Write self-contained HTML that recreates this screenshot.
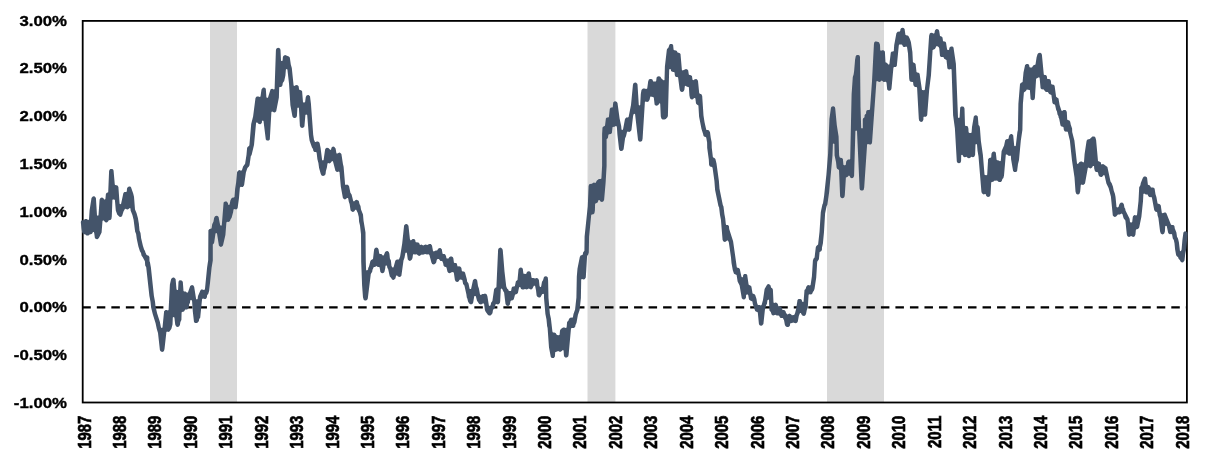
<!DOCTYPE html>
<html><head><meta charset="utf-8"><title>Chart</title>
<style>
html,body{margin:0;padding:0;background:#fff;}
body{width:1210px;height:462px;overflow:hidden;position:relative;font-family:"Liberation Sans",sans-serif;}
svg{position:absolute;left:0;top:0;display:block}
text{font-family:"Liberation Sans",sans-serif;font-weight:bold;fill:#000}
</style></head><body>
<svg width="1210" height="462" viewBox="0 0 1210 462">
<rect x="210" y="20.9" width="27" height="381.6" fill="#d9d9d9"/>
<rect x="587.5" y="20.9" width="27.899999999999977" height="381.6" fill="#d9d9d9"/>
<rect x="827" y="20.9" width="57" height="381.6" fill="#d9d9d9"/>
<line x1="82.3" y1="307.35" x2="1186.9" y2="307.35" stroke="#000" stroke-width="2.1" stroke-dasharray="8.5 6.02"/>
<rect x="82.7" y="20.9" width="1104.2" height="381.6" fill="none" stroke="#000" stroke-width="1.8"/>
<path d="M1187.6,234.1 1187.4,232.4 1186.4,231.4 1184.8,231.2 1183.4,232.4 1182.4,240.0 1181.6,249.6 1181.0,251.1 1180.6,251.2 1179.9,250.8 1178.9,242.2 1178.0,238.4 1177.0,236.8 1176.4,232.5 1174.8,228.4 1174.4,226.1 1173.4,225.1 1171.6,225.0 1170.9,224.5 1166.4,213.2 1165.6,212.6 1164.6,212.4 1162.5,213.2 1161.8,212.8 1160.8,205.5 1159.9,204.2 1157.6,203.4 1156.4,197.0 1155.5,194.2 1154.6,188.5 1153.2,187.4 1151.0,187.5 1149.9,185.6 1147.9,184.8 1147.1,178.0 1146.8,177.2 1145.6,176.5 1144.0,176.6 1142.9,177.8 1140.8,183.0 1140.4,185.2 1139.2,187.2 1138.5,201.1 1137.0,214.9 1136.2,215.4 1134.4,215.1 1133.2,215.9 1132.8,217.0 1132.2,222.1 1131.5,222.6 1130.8,222.6 1130.0,222.1 1129.6,218.8 1125.5,210.4 1125.2,208.8 1124.4,207.4 1123.9,204.4 1123.4,203.4 1122.2,202.6 1120.6,202.8 1119.5,203.9 1118.5,207.0 1117.5,207.6 1116.5,207.1 1115.5,196.8 1114.9,193.8 1113.8,190.8 1112.9,186.5 1111.6,183.1 1110.5,181.4 1107.4,167.1 1104.0,164.4 1103.0,164.1 1101.5,164.4 1101.1,164.0 1100.9,162.6 1100.2,161.9 1098.0,161.0 1096.1,139.9 1095.4,137.6 1094.4,136.6 1093.4,136.4 1092.4,136.6 1089.8,139.0 1087.5,139.5 1086.6,140.8 1084.6,154.1 1084.0,162.1 1083.2,162.6 1081.9,161.6 1080.9,161.4 1079.5,161.9 1078.1,163.8 1077.8,163.9 1077.0,163.4 1074.4,140.5 1072.2,132.1 1072.1,128.6 1070.8,124.8 1070.2,121.8 1069.4,120.4 1067.8,119.9 1067.2,119.4 1066.8,112.0 1066.2,110.8 1065.5,110.1 1064.5,109.9 1063.5,110.1 1062.1,111.1 1061.4,110.6 1059.6,105.0 1058.5,98.6 1056.1,96.8 1054.6,85.8 1053.6,84.8 1052.0,84.6 1051.2,84.1 1050.9,80.9 1050.4,79.8 1049.2,79.0 1047.5,78.9 1047.1,78.5 1046.9,76.6 1046.4,75.6 1045.6,75.0 1044.5,74.9 1043.8,74.4 1041.9,54.8 1041.4,53.5 1040.2,52.8 1038.6,52.9 1037.6,53.9 1036.6,57.2 1035.5,64.6 1033.2,65.5 1032.0,67.6 1029.9,67.5 1029.4,66.8 1029.1,65.0 1028.1,64.0 1026.5,63.9 1025.1,65.0 1023.5,72.5 1022.6,82.1 1020.8,83.0 1020.0,84.1 1018.4,103.8 1017.9,129.9 1017.4,131.9 1015.8,145.8 1015.0,146.2 1014.2,145.8 1013.2,135.2 1011.9,134.1 1011.2,134.0 1009.9,134.5 1009.0,135.9 1008.6,138.6 1007.9,139.1 1006.2,139.2 1005.2,140.2 1004.1,145.4 1001.6,151.1 1000.8,160.8 1000.0,161.2 998.8,160.4 997.4,160.2 996.6,159.8 995.8,152.6 994.4,151.5 993.8,151.4 992.4,151.9 991.5,153.5 991.2,157.2 990.5,157.8 989.2,157.9 988.1,159.2 987.2,174.8 986.5,175.2 984.9,175.0 984.5,174.6 982.9,155.0 980.9,141.0 979.9,127.8 979.5,126.0 978.5,124.9 977.8,116.5 976.8,115.5 975.8,115.2 974.8,115.5 973.8,116.5 972.0,127.0 971.6,132.5 970.9,133.0 969.5,132.9 968.6,132.2 968.4,128.5 967.8,126.6 967.0,126.0 965.8,125.9 965.0,125.4 964.5,108.6 964.0,107.2 963.2,106.6 962.2,106.4 961.2,106.6 960.2,107.6 959.6,117.4 958.8,118.0 958.0,117.5 955.9,63.8 953.5,47.6 952.5,46.6 950.9,46.5 949.5,47.6 949.1,49.5 948.8,49.9 947.9,50.0 947.1,49.5 946.0,42.6 945.0,41.6 943.8,41.5 943.0,41.0 942.5,37.6 941.5,36.6 940.0,36.0 939.2,31.0 938.8,29.9 938.0,29.2 936.4,29.1 935.2,29.9 934.8,30.9 934.5,32.9 934.0,33.6 933.2,33.6 932.5,33.0 931.5,32.8 930.5,33.0 929.8,33.6 929.1,35.8 926.5,75.1 924.8,89.8 924.0,90.2 922.2,90.0 921.9,89.6 919.6,73.8 918.6,72.8 917.2,72.6 916.5,72.1 915.6,63.9 914.6,62.9 913.4,62.6 912.9,62.1 912.4,51.9 910.9,42.1 909.8,38.8 908.4,36.0 907.6,35.4 906.1,35.2 905.4,34.8 904.6,29.0 903.6,28.0 902.6,27.8 901.6,28.0 900.9,28.6 900.4,29.6 900.2,31.0 899.8,31.6 897.6,31.8 896.4,33.2 894.2,45.1 893.8,51.0 893.0,51.5 891.8,51.6 890.8,52.6 889.4,64.2 889.0,64.6 888.2,64.6 887.1,63.1 885.5,62.2 884.9,51.8 884.5,51.0 883.4,50.2 882.1,50.2 881.1,50.8 880.2,50.2 880.0,44.8 879.1,42.5 878.4,41.9 876.2,41.4 875.2,41.6 874.2,42.6 873.9,44.8 872.0,81.2 870.0,108.9 869.5,109.9 867.8,109.9 866.6,110.6 866.1,111.9 866.1,113.4 864.6,115.1 864.5,117.2 863.0,118.6 862.8,119.6 862.8,128.1 862.0,128.6 861.2,128.1 860.5,106.6 860.0,57.0 859.5,55.6 858.4,54.9 856.8,55.0 855.8,56.0 855.1,59.6 854.1,71.2 853.6,74.6 852.8,77.0 851.6,94.2 850.2,159.0 849.8,159.6 848.0,159.6 846.9,160.4 846.2,161.5 845.8,164.8 845.0,165.2 844.1,165.2 843.4,164.8 842.9,158.9 841.9,157.9 840.4,157.8 839.6,157.2 839.1,154.9 838.6,136.5 836.8,124.9 835.2,108.2 834.8,107.0 833.6,106.2 832.0,106.4 831.0,107.4 829.4,119.1 828.1,153.5 826.4,174.5 824.1,196.1 823.0,203.2 822.4,204.4 820.8,212.1 819.5,232.0 818.1,244.6 816.4,245.9 815.8,247.2 814.6,257.4 813.6,258.6 812.9,260.5 811.9,276.2 810.6,285.0 809.9,285.5 808.5,285.1 807.1,285.6 806.2,286.9 805.6,288.9 804.5,290.1 803.6,301.5 803.2,301.9 802.5,301.9 801.5,299.6 800.4,298.9 798.5,299.0 797.5,300.0 796.1,309.1 795.1,313.1 794.5,314.6 793.8,315.1 791.9,315.2 791.0,314.2 789.4,313.6 787.5,314.4 787.0,314.2 785.9,312.6 785.4,310.9 784.2,310.1 782.5,310.0 781.4,307.1 780.2,306.4 778.6,306.2 778.1,305.6 777.9,304.2 777.0,303.0 775.6,302.5 774.2,302.9 773.5,302.4 772.9,289.8 772.4,288.5 771.0,287.5 770.6,285.4 769.2,284.2 768.6,284.1 767.2,284.6 764.6,288.9 763.0,300.1 761.6,305.1 760.8,305.6 759.8,305.1 758.1,305.0 757.6,304.5 757.0,302.4 756.5,298.9 755.2,295.0 754.2,294.0 753.0,293.8 752.5,293.2 751.4,286.4 750.4,285.4 749.1,285.1 748.6,284.6 747.2,275.1 746.2,274.1 745.2,273.9 744.2,274.1 743.2,275.1 743.0,276.9 742.6,277.2 741.9,277.2 741.4,276.5 739.8,268.9 738.8,267.9 737.5,267.8 736.8,267.2 733.1,241.2 729.2,228.9 728.9,226.1 727.9,225.1 726.2,224.9 725.8,224.0 725.2,218.2 724.4,214.0 723.5,206.4 722.8,204.9 719.5,188.8 718.9,181.0 716.5,163.4 715.4,158.9 714.4,157.9 712.9,157.2 711.8,147.9 711.6,141.9 710.8,138.1 710.0,132.2 709.0,130.5 708.0,130.0 706.6,129.9 706.2,129.5 704.5,121.9 703.5,115.6 702.2,95.9 701.4,94.2 699.8,93.8 699.2,93.1 698.0,80.9 697.5,79.9 696.4,79.1 694.8,79.2 693.4,80.2 692.5,79.8 692.0,76.2 691.0,75.2 689.5,75.1 688.8,74.6 688.2,70.6 687.4,69.4 686.0,68.9 682.6,70.5 681.9,70.0 680.5,53.9 679.5,52.9 677.6,52.6 676.8,51.0 676.0,50.4 674.4,50.2 673.6,49.8 673.1,45.1 672.1,44.1 671.1,43.9 670.1,44.1 669.4,44.8 668.5,47.4 667.1,48.9 666.8,50.1 664.9,66.6 664.5,79.9 664.1,80.2 663.4,80.2 661.4,78.4 660.4,76.8 659.0,76.2 657.6,76.5 656.6,77.5 656.2,80.8 655.8,81.4 653.2,81.4 652.4,79.6 651.2,78.9 650.0,78.9 648.9,79.6 648.2,81.2 647.2,88.6 646.2,89.1 644.4,88.5 643.1,88.5 642.4,88.9 641.5,90.1 640.8,94.1 640.2,105.1 639.5,105.6 638.8,105.1 637.5,84.6 637.2,83.8 636.2,82.8 635.2,82.5 633.9,83.0 633.2,83.8 632.9,85.2 631.0,104.9 628.6,116.9 627.8,117.5 626.2,117.6 625.0,119.1 623.0,129.6 622.2,130.1 621.5,129.6 621.2,126.0 619.6,118.6 617.5,103.0 616.6,101.8 615.2,101.2 614.2,101.5 613.2,102.5 612.8,107.0 612.4,107.4 610.9,107.6 609.8,108.8 608.9,117.0 608.1,117.5 606.9,117.6 605.9,118.6 605.0,125.8 603.5,126.4 602.5,127.4 602.1,134.0 602.1,165.8 601.4,178.6 600.6,179.1 599.9,178.9 598.9,179.1 596.9,180.4 595.5,182.9 593.9,182.6 592.9,182.9 591.9,183.8 589.9,184.0 589.1,184.6 588.6,185.9 587.8,206.1 584.6,236.6 584.4,250.8 583.1,252.6 582.8,254.6 582.2,255.1 580.6,255.6 579.8,257.0 577.5,268.6 576.8,276.5 576.4,297.6 575.1,309.5 573.5,313.9 572.9,317.2 572.1,317.8 571.1,317.5 569.8,318.0 569.0,318.9 568.5,320.5 567.1,322.1 566.6,327.5 565.8,328.0 564.4,327.4 563.1,327.4 560.9,329.1 560.0,330.6 559.6,334.8 558.9,335.2 556.9,335.1 555.6,332.9 554.2,332.4 552.9,332.5 552.4,331.6 550.9,318.4 549.9,314.0 548.5,297.9 548.1,280.6 547.8,277.5 546.8,276.5 545.8,276.2 544.8,276.5 544.0,277.1 543.0,280.2 542.0,281.8 541.2,286.2 540.8,286.9 540.0,286.9 539.5,285.8 538.9,279.9 538.0,278.6 536.6,278.1 535.1,278.6 533.4,278.0 532.0,278.1 531.5,277.6 530.8,272.5 529.8,271.5 528.8,271.2 527.8,271.5 527.0,272.1 526.1,273.9 523.8,273.8 523.4,273.4 522.8,268.8 521.8,267.8 520.8,267.5 519.8,267.8 519.0,268.4 518.5,269.5 517.5,279.9 515.9,281.2 514.9,285.9 514.1,286.4 512.9,286.5 512.1,287.1 511.6,288.1 511.2,290.6 510.8,291.1 508.9,291.1 508.2,289.5 507.1,288.4 506.2,286.2 504.5,271.4 502.8,250.5 502.4,248.9 501.4,247.9 500.4,247.6 499.4,247.9 498.6,248.5 498.1,249.8 496.4,287.2 495.0,288.0 494.1,289.2 492.4,300.9 491.1,302.8 490.6,305.2 489.6,306.0 488.9,305.5 487.4,296.2 486.8,294.5 486.0,293.9 485.0,293.6 483.9,294.0 482.4,293.9 480.8,294.9 480.0,294.4 478.9,288.5 478.0,285.9 477.2,280.6 476.4,279.2 475.0,278.8 474.4,278.9 473.0,280.0 471.1,288.8 470.8,289.1 470.0,289.1 469.6,288.8 468.5,283.5 467.1,281.5 466.9,279.4 465.0,272.5 464.0,271.5 462.6,271.4 461.8,270.8 461.4,268.1 460.5,266.8 459.1,266.2 457.8,266.4 457.4,266.0 456.8,263.6 456.0,263.0 454.6,262.9 453.9,262.4 453.4,258.4 452.9,257.2 451.8,256.5 450.4,256.5 449.2,257.2 448.5,258.5 446.8,258.5 446.4,258.1 446.0,256.0 445.4,254.8 444.6,254.1 443.0,253.9 442.5,253.4 441.8,249.2 440.4,248.1 439.8,248.0 438.4,248.5 437.1,250.6 435.8,250.5 433.8,251.4 433.0,250.9 432.0,245.6 430.8,244.1 429.1,244.0 427.4,245.1 425.4,244.4 423.2,245.4 421.4,244.6 420.4,244.9 419.6,244.4 419.4,243.4 418.4,242.4 416.0,242.2 415.6,241.9 415.2,240.1 414.2,239.1 412.6,239.0 411.1,240.2 410.4,240.2 409.9,239.0 408.5,226.0 408.0,224.9 406.9,224.1 405.2,224.2 404.1,225.6 402.2,243.5 400.1,256.6 398.9,259.5 396.8,259.4 395.4,260.5 393.6,267.0 393.2,267.4 392.5,267.4 391.5,266.0 390.9,260.6 389.9,258.6 389.4,253.8 388.8,251.9 387.6,251.1 386.0,251.2 385.0,252.2 383.9,255.1 383.5,255.5 382.8,255.5 381.4,254.1 380.0,254.0 379.2,253.5 378.6,249.4 377.8,248.1 376.4,247.6 375.0,248.1 374.1,249.5 373.0,258.9 371.2,259.9 370.4,261.0 369.0,266.6 368.2,267.9 368.1,269.5 366.9,270.6 366.1,270.1 365.8,261.6 365.5,232.4 363.5,220.4 363.0,214.4 361.0,209.4 360.5,205.9 359.5,204.0 358.8,201.1 358.2,200.4 356.6,199.8 355.6,200.0 354.0,201.4 353.2,200.9 351.6,194.5 350.4,192.8 349.0,185.9 348.0,184.9 347.0,184.6 345.9,185.0 345.1,184.5 343.6,166.8 342.9,163.8 341.4,153.9 340.4,152.9 339.4,152.6 338.4,152.9 337.5,153.6 336.8,153.6 336.4,153.2 335.6,148.5 334.4,146.9 333.4,146.6 332.0,147.1 331.4,147.9 331.1,149.5 330.4,150.0 328.4,147.9 326.8,147.8 325.6,148.5 325.1,149.5 323.6,159.9 322.9,160.4 322.1,159.9 320.6,148.1 319.6,143.1 319.1,142.2 318.0,141.5 316.8,141.5 315.8,142.1 315.0,142.1 314.0,139.8 313.2,134.8 310.9,103.2 310.0,96.2 308.6,95.1 308.0,95.0 306.6,95.5 305.8,97.1 305.1,102.1 304.4,102.6 303.4,102.5 303.0,102.1 302.1,91.2 301.1,90.2 299.9,90.1 299.1,89.6 298.6,86.2 297.6,85.2 296.0,85.1 294.4,86.1 293.6,85.6 291.8,67.9 290.8,64.4 289.8,57.6 288.8,56.6 285.1,55.1 284.1,55.4 283.4,56.0 282.9,57.1 282.6,60.4 282.1,60.9 281.4,60.9 281.0,60.5 280.5,49.9 280.0,48.6 278.9,47.9 278.2,47.8 276.9,48.2 276.2,49.0 275.9,50.5 274.6,88.9 273.9,89.4 272.2,88.8 271.2,89.0 270.5,89.6 268.0,97.4 267.2,97.9 266.4,97.2 265.8,88.8 264.8,87.8 263.8,87.5 262.8,87.8 261.5,89.4 260.5,96.6 259.8,97.1 258.4,96.4 257.1,96.4 256.4,96.8 255.5,98.0 253.1,116.4 251.2,124.1 249.4,145.2 248.9,146.1 247.6,146.9 247.1,148.1 246.5,154.8 245.1,163.8 243.1,166.5 242.0,170.1 241.1,170.8 239.4,170.1 238.4,170.4 237.1,171.9 236.1,182.5 235.1,188.9 234.5,197.1 233.8,197.6 232.1,197.8 231.4,198.4 230.4,200.6 229.6,204.5 228.9,205.0 228.1,204.5 227.9,203.0 226.6,201.5 225.0,201.4 223.6,202.5 221.8,225.2 221.0,225.8 220.1,225.0 218.6,217.0 217.6,216.0 216.6,215.8 215.6,216.0 214.9,216.6 214.1,218.0 213.5,221.4 212.2,224.2 211.6,228.2 210.9,228.8 209.5,228.9 208.4,230.2 208.2,260.1 207.1,267.5 205.0,288.8 204.4,289.9 203.9,290.0 202.2,289.4 201.2,289.6 200.5,290.2 198.0,296.0 197.6,299.0 196.9,299.5 196.1,299.0 194.2,287.1 193.4,285.6 192.0,285.1 191.0,285.4 190.2,286.0 188.0,292.2 187.2,292.8 186.8,292.6 185.6,291.5 184.2,291.4 183.5,290.9 182.8,281.8 181.6,280.4 180.0,280.2 179.2,280.6 178.5,281.8 178.1,289.5 177.8,289.9 177.0,289.9 176.5,289.2 175.6,278.9 174.0,277.6 173.4,277.5 172.0,278.0 171.1,279.2 169.9,284.4 168.6,310.1 167.9,310.6 166.8,310.1 165.5,310.1 164.1,311.2 162.5,327.4 161.8,327.9 161.0,327.4 159.9,321.9 157.1,313.2 155.5,306.2 155.0,301.5 153.9,295.8 150.9,267.6 149.9,261.9 149.5,261.2 149.4,256.9 148.6,255.8 146.6,254.9 145.4,252.5 145.0,250.9 144.1,249.6 142.9,245.8 141.2,238.4 140.5,233.0 139.5,230.5 138.9,223.9 137.9,218.1 136.5,213.0 135.0,209.6 134.0,196.8 133.2,193.6 131.0,187.2 130.2,186.6 129.2,186.4 127.9,186.9 127.0,188.4 126.8,191.5 126.0,192.0 124.4,192.1 123.4,193.1 121.1,203.8 120.4,204.2 119.6,203.8 118.4,187.1 117.5,185.6 115.2,185.1 114.8,184.6 113.6,171.0 113.4,170.1 112.4,169.1 111.4,168.9 110.4,169.1 109.6,169.8 109.1,171.0 108.2,192.2 106.5,193.1 105.9,193.9 105.4,199.0 105.0,199.4 104.2,199.4 103.2,198.0 101.9,197.5 100.5,198.0 99.6,199.5 98.5,215.2 97.8,215.8 97.0,215.2 95.9,197.9 94.8,196.5 93.8,196.2 92.8,196.5 91.5,198.0 89.6,210.2 89.0,219.4 88.2,219.9 86.6,218.9 85.0,219.0 83.9,220.0 81.6,220.5 81.0,221.2 80.8,222.2 81.5,228.6 82.2,232.5 82.8,233.5 83.5,234.1 85.4,234.4 86.5,235.4 87.5,235.6 88.5,235.4 89.6,234.4 91.5,234.1 92.2,233.5 93.0,232.0 93.8,232.0 94.2,232.9 94.9,238.1 95.9,239.1 97.5,239.2 98.9,238.1 101.6,232.4 102.5,220.9 103.0,220.4 103.8,220.4 105.2,222.2 106.9,222.4 108.0,221.6 108.8,220.2 110.4,220.0 111.4,219.0 111.8,216.6 112.4,199.9 112.8,199.5 114.1,199.4 114.9,199.9 115.8,210.4 117.2,214.5 119.4,216.8 121.0,216.9 122.1,216.1 123.5,211.6 124.9,208.9 125.4,208.8 127.2,209.5 128.2,209.2 129.8,208.0 130.5,208.5 130.6,210.6 132.4,215.0 133.6,219.8 135.1,231.5 136.1,234.1 136.8,238.9 138.4,246.4 140.0,251.4 141.0,253.1 141.5,255.6 142.6,256.9 144.9,261.2 145.2,265.6 146.2,267.2 149.4,296.1 150.5,301.8 151.1,307.4 152.8,314.2 155.6,323.2 156.8,329.0 158.0,332.9 159.9,349.9 160.4,351.0 161.1,351.6 162.1,351.9 163.5,351.4 164.1,350.6 164.5,349.1 166.4,332.1 167.1,331.6 168.1,331.9 169.5,331.4 171.4,328.8 172.5,324.4 172.8,317.4 173.5,316.9 174.4,317.4 175.2,324.5 175.9,326.1 176.6,326.8 177.6,327.0 179.0,326.5 179.9,325.1 180.4,322.1 181.4,319.9 181.6,312.4 182.0,312.0 184.0,311.5 185.2,309.4 187.1,309.4 188.2,308.6 188.8,307.6 189.1,304.6 190.0,302.8 190.2,300.5 190.8,299.9 191.5,299.9 192.1,301.2 192.8,311.6 194.0,322.0 195.0,323.0 196.6,323.1 197.8,322.5 198.9,321.0 199.2,319.1 200.2,317.8 202.1,299.0 203.0,298.5 204.6,299.1 205.6,298.9 206.4,298.2 206.9,297.2 207.2,295.0 208.2,293.9 209.2,290.8 211.6,267.8 212.8,260.5 212.8,244.4 213.8,243.5 214.2,242.5 215.5,233.4 216.2,232.9 217.0,233.4 218.9,245.6 219.9,246.6 220.9,246.9 221.9,246.6 222.6,246.0 223.1,245.1 225.4,234.9 226.4,222.4 227.2,221.8 228.1,222.0 229.1,221.8 230.1,220.8 230.5,219.5 231.6,217.8 233.1,212.2 233.5,209.6 234.2,209.1 236.2,209.4 237.6,208.2 239.0,198.1 239.9,187.6 240.8,186.8 241.9,187.1 242.9,186.9 244.1,185.2 245.9,172.5 247.4,168.1 248.9,166.6 249.5,165.2 250.8,156.2 251.6,154.9 254.0,145.1 256.1,122.8 256.5,122.4 257.2,122.4 258.8,124.1 260.4,124.2 261.8,123.1 262.0,120.9 262.8,120.4 263.5,120.9 265.8,139.4 266.8,140.4 267.8,140.6 268.8,140.4 269.8,139.4 271.4,112.0 272.1,111.5 274.2,112.5 275.2,112.2 276.2,111.2 278.9,97.4 279.2,87.5 279.6,87.1 281.1,86.9 281.9,86.2 282.4,85.4 282.8,83.0 284.2,81.1 285.4,75.4 285.9,69.4 286.6,68.9 287.4,69.4 289.0,83.5 290.4,105.2 292.4,116.2 292.9,117.2 294.0,118.0 295.2,118.0 296.4,117.2 296.9,116.0 297.4,107.9 298.1,107.4 298.9,107.9 299.9,126.0 300.8,127.6 302.1,128.1 303.5,127.6 304.4,126.4 305.4,114.9 306.1,114.4 307.2,114.9 308.8,135.1 309.6,140.8 312.0,147.5 313.0,149.0 313.4,150.9 314.4,151.9 315.9,152.0 316.6,152.5 317.4,159.2 318.4,163.1 319.1,168.0 320.8,174.1 321.6,175.4 323.0,175.9 323.9,175.8 325.1,174.9 325.6,173.8 325.9,171.0 326.9,167.6 327.5,163.5 328.2,163.0 329.4,163.4 330.4,163.1 331.9,161.2 332.2,161.1 333.0,161.6 335.4,170.8 336.4,171.8 337.4,172.0 338.8,171.6 339.5,172.1 340.8,186.5 342.9,198.1 343.9,199.1 344.9,199.4 345.9,199.1 347.0,198.0 347.8,198.0 348.2,198.6 348.8,201.8 349.6,204.1 350.6,210.5 351.8,211.6 352.8,211.9 354.1,211.4 355.4,209.8 356.2,209.8 357.8,213.0 358.8,216.9 359.1,221.8 360.0,225.6 361.0,234.2 361.2,261.9 362.1,285.6 363.0,297.4 363.8,299.9 364.9,300.5 366.1,300.5 367.2,299.8 367.8,298.6 370.8,273.9 372.2,271.8 372.5,269.8 373.8,267.0 375.0,266.9 376.4,266.1 377.8,266.9 379.2,267.0 379.6,267.4 380.4,272.0 381.4,273.0 382.4,273.2 383.4,273.0 384.4,272.0 385.2,268.6 385.5,266.0 385.9,265.6 386.6,265.6 387.0,266.0 387.4,267.9 388.1,269.0 389.8,276.6 391.2,278.0 392.0,279.4 393.4,279.9 394.0,279.8 395.4,278.6 396.0,275.9 396.4,275.5 397.1,275.5 398.0,276.5 399.4,277.0 400.4,276.8 401.4,275.8 403.5,260.6 404.5,257.8 405.4,253.0 406.1,252.5 406.9,253.0 407.8,259.6 408.8,260.6 409.8,260.9 410.8,260.6 411.9,259.5 412.5,258.0 413.0,254.6 413.4,254.2 415.2,254.6 416.6,254.2 418.2,255.6 419.2,255.9 420.2,255.6 421.8,254.4 423.0,254.8 425.1,253.9 427.0,254.6 428.5,254.2 429.4,254.9 431.4,262.6 432.2,264.0 433.6,264.5 435.0,264.0 436.2,262.4 436.8,259.8 437.6,259.1 438.9,259.1 440.4,260.9 441.8,261.0 442.5,261.5 443.2,263.4 443.6,265.8 444.6,266.8 445.8,266.9 446.5,267.4 447.4,271.4 448.2,272.8 449.6,273.2 450.2,273.1 452.1,271.9 453.8,272.6 454.9,280.1 455.8,281.5 457.1,282.0 458.1,281.8 458.9,281.1 459.4,280.0 460.1,279.5 461.6,279.8 462.4,280.2 463.1,283.9 464.4,285.6 466.4,294.5 466.8,297.5 467.4,298.8 468.0,301.5 469.2,303.5 470.0,304.1 471.0,304.4 472.0,304.1 472.8,303.5 473.2,302.5 474.2,296.4 474.6,296.0 475.4,296.0 475.9,296.5 477.0,300.8 479.2,303.9 481.0,304.4 482.0,304.1 483.2,303.2 484.1,303.9 484.9,309.9 485.5,311.6 487.8,314.8 488.9,315.5 490.5,315.4 492.0,314.0 492.5,312.9 493.0,309.9 494.9,307.4 495.4,304.6 496.4,303.9 497.9,304.4 498.5,304.2 499.9,303.1 500.2,301.0 500.8,289.0 501.5,288.5 502.2,289.0 503.4,291.5 504.1,292.4 505.5,304.0 506.4,305.5 507.8,306.0 508.8,305.8 509.8,304.8 510.6,300.9 511.4,300.4 512.8,300.2 513.8,299.2 515.0,294.8 515.4,294.4 516.9,294.1 517.9,293.1 519.0,287.8 519.5,287.1 520.2,287.1 521.1,288.9 522.4,289.6 523.6,289.6 525.0,288.9 526.8,289.5 528.8,288.6 530.8,289.5 531.8,289.2 532.5,288.6 533.9,285.8 534.8,285.8 535.1,286.1 536.0,290.2 536.6,295.5 537.6,297.1 539.0,297.6 540.0,297.4 540.8,296.8 542.1,294.2 543.2,293.8 544.0,294.2 544.0,298.1 545.4,314.0 546.5,319.6 547.1,326.1 547.6,328.1 549.0,347.6 550.8,356.9 551.8,357.9 552.8,358.1 553.8,357.9 554.9,356.5 555.2,352.2 555.6,351.9 557.1,351.6 558.1,351.0 559.5,351.8 560.8,351.8 562.9,350.0 563.6,350.5 563.9,355.2 564.2,356.5 565.2,357.5 566.9,357.6 568.2,356.5 568.6,354.9 571.0,328.4 571.8,327.9 573.8,328.1 575.1,327.0 575.5,324.9 576.5,322.8 577.9,315.0 579.6,309.9 580.9,297.9 581.2,279.5 582.0,279.0 583.5,279.5 584.5,279.2 585.2,278.6 585.8,277.4 587.1,256.0 588.2,254.4 588.8,252.5 589.1,236.8 591.2,215.0 591.8,214.5 593.4,214.2 594.4,213.2 594.9,210.4 595.1,203.8 597.6,202.4 598.6,199.9 599.4,199.9 600.5,201.5 601.9,202.0 603.2,201.5 604.1,200.0 605.6,183.0 606.6,165.9 606.6,139.2 607.9,138.0 608.4,134.8 609.1,134.2 610.9,134.1 611.9,133.1 612.5,127.2 613.2,126.8 613.9,126.9 615.9,126.0 616.4,126.1 616.9,127.4 617.4,134.5 619.1,149.4 620.4,150.9 621.4,151.1 622.8,150.6 623.6,149.2 625.1,138.2 626.0,136.2 627.0,131.9 627.8,131.4 629.2,131.9 630.2,131.6 631.4,130.2 633.1,116.1 633.6,114.2 634.4,113.8 635.1,114.2 638.0,139.8 638.5,140.9 639.2,141.5 640.2,141.8 641.6,141.2 642.2,140.5 642.6,138.6 644.9,102.0 645.6,101.5 647.1,102.0 648.5,101.5 649.6,99.8 650.2,96.9 650.6,96.5 652.9,96.9 653.8,97.5 654.6,104.5 655.2,105.2 656.6,105.8 657.2,105.6 658.4,104.9 659.1,103.4 659.5,103.2 660.2,103.8 660.8,116.4 661.4,118.5 662.5,119.4 664.4,119.5 665.8,118.9 667.4,117.2 667.9,116.0 669.2,69.4 670.0,68.9 670.9,69.5 671.1,70.9 671.8,71.6 673.1,72.1 673.9,71.9 674.6,72.4 674.8,75.0 675.2,76.2 676.0,76.9 677.4,77.0 678.1,77.5 679.6,89.2 680.2,91.1 681.0,91.8 682.0,92.0 683.0,91.8 683.8,91.1 684.4,89.8 684.8,86.2 685.6,85.8 687.0,86.8 688.5,87.0 688.9,87.4 689.4,95.5 690.0,98.2 691.0,99.2 692.0,99.5 693.0,99.2 694.1,98.1 694.9,98.1 695.4,98.6 696.0,103.4 696.9,104.5 698.4,105.4 699.1,116.8 701.5,129.1 703.1,133.9 703.4,135.6 704.0,136.4 705.6,136.9 706.2,137.6 707.1,142.4 707.2,148.1 708.8,159.6 709.1,165.0 710.0,166.6 712.1,167.1 712.6,168.1 714.4,181.1 715.1,190.0 718.4,205.9 719.1,207.6 720.0,215.1 720.9,219.5 722.6,239.9 723.5,241.4 724.9,241.9 725.9,241.6 727.1,240.4 727.9,240.4 728.8,242.2 731.0,257.5 731.5,263.1 732.8,270.2 734.0,273.8 736.6,275.1 737.6,281.5 739.6,285.6 741.8,298.2 742.8,299.2 743.8,299.5 744.8,299.2 745.9,297.9 746.1,295.0 746.9,294.5 747.9,294.6 748.2,295.0 749.0,299.4 750.2,300.6 752.4,301.5 752.8,304.1 755.1,310.8 755.8,311.5 757.2,312.0 757.8,312.6 758.9,323.8 759.4,324.9 760.1,325.5 761.1,325.8 762.1,325.5 763.4,323.9 764.9,310.1 766.2,305.0 766.9,303.9 767.4,300.5 768.2,299.6 769.0,300.1 769.4,309.9 769.6,310.8 770.8,312.1 771.6,314.6 772.4,315.2 773.4,315.5 775.2,314.8 776.8,315.6 778.6,315.5 779.4,316.0 779.6,317.0 780.6,318.0 782.9,318.1 784.1,320.6 784.8,324.6 785.4,325.9 786.8,327.0 788.4,327.1 789.8,326.0 790.2,323.6 790.6,323.2 792.1,323.1 793.1,322.6 795.5,323.2 796.5,323.0 797.2,322.4 797.8,321.5 798.8,316.1 800.0,313.0 800.8,313.0 801.9,315.1 802.8,315.8 804.4,315.9 805.5,315.1 806.0,314.1 806.8,310.0 807.8,307.4 808.6,294.8 809.4,294.2 811.1,294.5 812.2,293.8 812.9,292.1 814.0,290.6 814.6,288.4 816.2,277.8 817.2,261.8 818.9,259.2 819.6,252.1 821.1,251.2 821.9,250.1 822.0,247.6 822.9,243.6 824.0,232.1 825.1,213.6 826.5,206.6 827.4,204.5 829.2,191.8 832.5,155.6 832.9,143.9 833.6,143.4 834.4,143.9 834.6,155.4 836.0,162.0 836.6,167.6 837.1,168.8 839.0,170.0 840.1,196.0 840.4,197.0 841.4,198.0 842.4,198.2 843.4,198.0 844.4,197.0 844.8,195.1 845.9,177.5 847.4,176.9 848.9,175.6 849.6,176.1 850.5,177.8 851.9,178.2 853.2,177.8 854.1,176.1 855.4,130.9 856.1,130.4 857.0,131.0 859.6,188.6 860.1,189.9 861.2,190.6 862.5,190.6 863.6,189.9 864.2,187.5 867.1,144.4 867.9,143.9 869.8,144.6 870.8,144.4 871.8,143.4 872.1,141.9 876.4,81.5 877.1,81.0 879.2,82.0 880.2,81.8 881.8,80.5 883.6,81.9 886.0,81.8 886.5,82.8 887.2,89.5 888.2,90.5 889.2,90.8 890.2,90.5 891.0,89.9 891.5,88.6 893.4,68.0 893.9,67.1 895.8,66.9 896.8,65.9 898.8,45.4 899.2,44.5 901.6,44.4 902.4,44.9 902.6,45.9 903.6,46.9 904.6,47.1 906.2,46.5 907.0,47.0 908.0,53.6 909.2,78.6 909.6,80.8 910.6,81.8 912.8,81.9 913.1,82.2 913.4,85.0 913.9,86.1 915.0,86.9 916.6,87.0 917.1,87.9 918.8,118.5 919.1,120.6 920.1,121.6 921.1,121.9 922.5,121.4 923.4,119.8 923.5,117.1 924.2,116.6 925.0,116.9 926.0,116.6 926.8,116.0 927.2,114.9 929.2,89.5 931.0,75.2 932.6,50.0 934.9,49.1 936.4,46.2 936.9,46.1 938.6,47.0 939.2,48.0 940.0,55.9 941.0,56.9 943.4,57.0 944.2,58.8 946.5,60.1 947.4,68.4 948.8,69.5 949.4,69.6 950.9,69.1 951.6,69.6 953.1,115.2 954.9,128.4 956.8,161.6 957.5,162.8 958.9,163.2 959.9,163.0 960.6,162.4 961.1,161.0 961.2,155.2 962.0,154.8 962.8,155.2 962.9,156.0 963.9,157.0 964.9,157.2 966.4,156.8 967.9,158.0 968.9,158.2 969.9,158.0 971.4,156.8 972.9,157.2 974.2,156.8 975.1,155.1 975.5,144.6 976.2,144.1 977.0,144.6 977.5,150.6 978.5,156.4 981.4,191.5 981.8,193.1 982.8,194.1 983.8,194.4 984.9,194.0 985.6,194.1 986.2,195.8 987.2,196.8 988.2,197.0 989.6,196.5 990.2,195.8 990.6,194.1 991.2,182.5 991.8,182.0 993.2,181.8 994.8,180.5 995.8,180.8 997.0,180.4 998.8,181.9 999.8,182.1 1000.8,181.9 1001.8,180.9 1002.4,179.1 1003.4,178.0 1004.0,175.4 1005.8,154.8 1006.1,154.4 1007.0,154.4 1008.2,155.6 1009.2,155.9 1010.1,155.6 1010.9,156.1 1011.1,159.4 1013.1,170.9 1014.1,171.9 1015.1,172.1 1016.1,171.9 1017.1,170.9 1018.0,164.1 1019.0,160.0 1020.8,140.8 1022.4,130.0 1022.9,104.1 1023.9,92.5 1025.9,91.1 1026.8,89.5 1029.5,89.9 1029.9,90.2 1030.6,99.0 1031.6,100.0 1032.6,100.2 1033.6,100.0 1034.4,99.4 1034.9,98.0 1036.1,78.8 1038.9,77.2 1039.6,77.8 1040.6,88.2 1041.6,89.2 1043.9,89.4 1045.1,91.5 1046.5,92.0 1047.9,91.9 1049.1,94.0 1051.4,94.9 1052.4,102.8 1053.1,103.9 1054.6,104.4 1055.1,105.0 1056.2,110.0 1057.0,111.4 1057.5,114.5 1058.4,115.9 1058.6,117.5 1059.2,118.8 1060.5,125.6 1061.5,126.6 1062.8,126.8 1063.5,127.2 1063.8,129.8 1064.6,131.2 1066.0,131.8 1067.0,131.5 1067.8,132.0 1069.9,140.8 1072.0,160.5 1074.5,177.5 1075.5,191.6 1076.1,193.6 1076.9,194.2 1077.9,194.5 1078.9,194.2 1079.6,193.6 1080.2,191.5 1080.8,184.9 1081.5,184.4 1083.0,184.9 1083.6,184.8 1085.0,183.6 1087.8,168.1 1088.5,167.6 1090.4,168.4 1091.4,168.1 1092.1,167.5 1092.9,166.0 1093.8,166.0 1094.1,166.4 1094.2,168.5 1094.9,170.9 1095.9,171.9 1097.2,172.0 1098.0,172.5 1098.6,175.2 1099.5,176.6 1100.9,177.1 1101.9,176.9 1103.8,175.0 1104.6,175.6 1106.4,183.6 1108.6,188.0 1110.9,196.6 1112.8,215.6 1113.8,216.6 1114.8,216.9 1116.1,216.4 1117.9,214.6 1119.9,214.6 1121.6,213.6 1122.5,214.2 1123.6,218.2 1125.4,220.4 1126.8,234.2 1127.1,235.6 1127.8,236.4 1129.1,236.9 1131.1,236.0 1133.1,236.9 1134.5,236.4 1135.4,234.8 1135.9,229.8 1136.6,229.2 1138.0,229.1 1139.2,227.6 1141.4,216.8 1143.0,201.2 1143.4,193.9 1144.1,193.4 1145.9,194.5 1147.6,194.5 1148.2,196.0 1149.2,197.0 1150.2,197.2 1151.0,197.0 1151.9,197.6 1154.2,210.1 1155.1,211.5 1156.8,212.0 1157.2,212.5 1157.6,215.4 1158.4,217.9 1160.1,231.6 1160.8,233.5 1161.5,234.1 1162.5,234.4 1163.5,234.1 1164.2,233.5 1164.9,231.5 1165.2,226.2 1166.0,225.8 1166.8,226.2 1168.1,232.6 1168.6,233.5 1169.8,234.2 1171.4,234.1 1172.1,234.6 1172.8,238.5 1173.8,240.1 1174.5,243.2 1175.1,249.6 1176.1,255.1 1176.6,256.0 1178.1,257.2 1178.6,258.8 1179.8,259.9 1180.9,262.0 1182.2,262.5 1183.2,262.2 1184.5,260.6 1185.2,254.0 1186.2,249.0Z" fill="#44546a" fill-rule="evenodd"/>
<text transform="translate(67.0 25.70) scale(1.105 1)" font-size="15.2" text-anchor="end" stroke="#000" stroke-width="0.35">3.00%</text>
<text transform="translate(67.0 73.47) scale(1.105 1)" font-size="15.2" text-anchor="end" stroke="#000" stroke-width="0.35">2.50%</text>
<text transform="translate(67.0 121.24) scale(1.105 1)" font-size="15.2" text-anchor="end" stroke="#000" stroke-width="0.35">2.00%</text>
<text transform="translate(67.0 169.01) scale(1.105 1)" font-size="15.2" text-anchor="end" stroke="#000" stroke-width="0.35">1.50%</text>
<text transform="translate(67.0 216.78) scale(1.105 1)" font-size="15.2" text-anchor="end" stroke="#000" stroke-width="0.35">1.00%</text>
<text transform="translate(67.0 264.55) scale(1.105 1)" font-size="15.2" text-anchor="end" stroke="#000" stroke-width="0.35">0.50%</text>
<text transform="translate(67.0 312.32) scale(1.105 1)" font-size="15.2" text-anchor="end" stroke="#000" stroke-width="0.35">0.00%</text>
<text transform="translate(67.0 360.09) scale(1.105 1)" font-size="15.2" text-anchor="end" stroke="#000" stroke-width="0.35">-0.50%</text>
<text transform="translate(67.0 407.86) scale(1.105 1)" font-size="15.2" text-anchor="end" stroke="#000" stroke-width="0.35">-1.00%</text>
<text transform="translate(90.60 415.7) rotate(-90) scale(0.98 1.21)" font-size="15.2" text-anchor="end" stroke="#000" stroke-width="0.55">1987</text>
<text transform="translate(126.02 415.7) rotate(-90) scale(0.98 1.21)" font-size="15.2" text-anchor="end" stroke="#000" stroke-width="0.55">1988</text>
<text transform="translate(161.44 415.7) rotate(-90) scale(0.98 1.21)" font-size="15.2" text-anchor="end" stroke="#000" stroke-width="0.55">1989</text>
<text transform="translate(196.86 415.7) rotate(-90) scale(0.98 1.21)" font-size="15.2" text-anchor="end" stroke="#000" stroke-width="0.55">1990</text>
<text transform="translate(232.28 415.7) rotate(-90) scale(0.98 1.21)" font-size="15.2" text-anchor="end" stroke="#000" stroke-width="0.55">1991</text>
<text transform="translate(267.70 415.7) rotate(-90) scale(0.98 1.21)" font-size="15.2" text-anchor="end" stroke="#000" stroke-width="0.55">1992</text>
<text transform="translate(303.12 415.7) rotate(-90) scale(0.98 1.21)" font-size="15.2" text-anchor="end" stroke="#000" stroke-width="0.55">1993</text>
<text transform="translate(338.54 415.7) rotate(-90) scale(0.98 1.21)" font-size="15.2" text-anchor="end" stroke="#000" stroke-width="0.55">1994</text>
<text transform="translate(373.95 415.7) rotate(-90) scale(0.98 1.21)" font-size="15.2" text-anchor="end" stroke="#000" stroke-width="0.55">1995</text>
<text transform="translate(409.37 415.7) rotate(-90) scale(0.98 1.21)" font-size="15.2" text-anchor="end" stroke="#000" stroke-width="0.55">1996</text>
<text transform="translate(444.79 415.7) rotate(-90) scale(0.98 1.21)" font-size="15.2" text-anchor="end" stroke="#000" stroke-width="0.55">1997</text>
<text transform="translate(480.21 415.7) rotate(-90) scale(0.98 1.21)" font-size="15.2" text-anchor="end" stroke="#000" stroke-width="0.55">1998</text>
<text transform="translate(515.63 415.7) rotate(-90) scale(0.98 1.21)" font-size="15.2" text-anchor="end" stroke="#000" stroke-width="0.55">1999</text>
<text transform="translate(551.05 415.7) rotate(-90) scale(0.98 1.21)" font-size="15.2" text-anchor="end" stroke="#000" stroke-width="0.55">2000</text>
<text transform="translate(586.47 415.7) rotate(-90) scale(0.98 1.21)" font-size="15.2" text-anchor="end" stroke="#000" stroke-width="0.55">2001</text>
<text transform="translate(621.89 415.7) rotate(-90) scale(0.98 1.21)" font-size="15.2" text-anchor="end" stroke="#000" stroke-width="0.55">2002</text>
<text transform="translate(657.31 415.7) rotate(-90) scale(0.98 1.21)" font-size="15.2" text-anchor="end" stroke="#000" stroke-width="0.55">2003</text>
<text transform="translate(692.73 415.7) rotate(-90) scale(0.98 1.21)" font-size="15.2" text-anchor="end" stroke="#000" stroke-width="0.55">2004</text>
<text transform="translate(728.15 415.7) rotate(-90) scale(0.98 1.21)" font-size="15.2" text-anchor="end" stroke="#000" stroke-width="0.55">2005</text>
<text transform="translate(763.57 415.7) rotate(-90) scale(0.98 1.21)" font-size="15.2" text-anchor="end" stroke="#000" stroke-width="0.55">2006</text>
<text transform="translate(798.99 415.7) rotate(-90) scale(0.98 1.21)" font-size="15.2" text-anchor="end" stroke="#000" stroke-width="0.55">2007</text>
<text transform="translate(834.41 415.7) rotate(-90) scale(0.98 1.21)" font-size="15.2" text-anchor="end" stroke="#000" stroke-width="0.55">2008</text>
<text transform="translate(869.83 415.7) rotate(-90) scale(0.98 1.21)" font-size="15.2" text-anchor="end" stroke="#000" stroke-width="0.55">2009</text>
<text transform="translate(905.25 415.7) rotate(-90) scale(0.98 1.21)" font-size="15.2" text-anchor="end" stroke="#000" stroke-width="0.55">2010</text>
<text transform="translate(940.66 415.7) rotate(-90) scale(0.98 1.21)" font-size="15.2" text-anchor="end" stroke="#000" stroke-width="0.55">2011</text>
<text transform="translate(976.08 415.7) rotate(-90) scale(0.98 1.21)" font-size="15.2" text-anchor="end" stroke="#000" stroke-width="0.55">2012</text>
<text transform="translate(1011.50 415.7) rotate(-90) scale(0.98 1.21)" font-size="15.2" text-anchor="end" stroke="#000" stroke-width="0.55">2013</text>
<text transform="translate(1046.92 415.7) rotate(-90) scale(0.98 1.21)" font-size="15.2" text-anchor="end" stroke="#000" stroke-width="0.55">2014</text>
<text transform="translate(1082.34 415.7) rotate(-90) scale(0.98 1.21)" font-size="15.2" text-anchor="end" stroke="#000" stroke-width="0.55">2015</text>
<text transform="translate(1117.76 415.7) rotate(-90) scale(0.98 1.21)" font-size="15.2" text-anchor="end" stroke="#000" stroke-width="0.55">2016</text>
<text transform="translate(1153.18 415.7) rotate(-90) scale(0.98 1.21)" font-size="15.2" text-anchor="end" stroke="#000" stroke-width="0.55">2017</text>
<text transform="translate(1188.60 415.7) rotate(-90) scale(0.98 1.21)" font-size="15.2" text-anchor="end" stroke="#000" stroke-width="0.55">2018</text>
</svg>
</body></html>
